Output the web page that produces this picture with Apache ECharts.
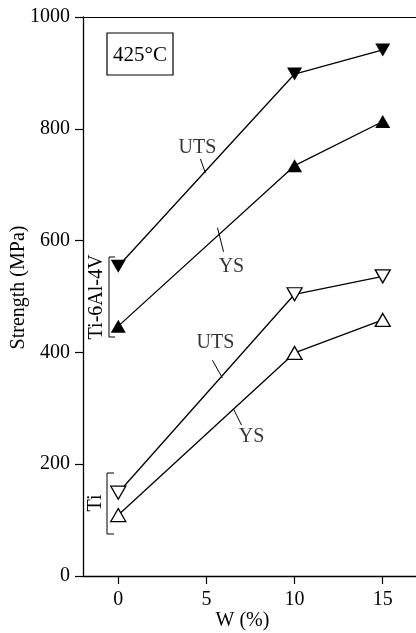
<!DOCTYPE html>
<html><head><meta charset="utf-8">
<script src="https://cdn.jsdelivr.net/npm/echarts@6/dist/echarts.min.js"></script>
<style>html,body{margin:0;padding:0;background:#fff}#c{width:416px;height:633px}</style>
</head><body><div id="c"></div>
<script>
const wPct = [0, 10, 15];
const alloyUTS = [554, 898, 941];
const alloyYS = [447, 734, 813];
const tiUTS = [149, 504, 536];
const tiYS = [109, 399, 458];
const yTicks = [0, 200, 400, 600, 800, 1000];
const xTicks = [0, 5, 10, 15];
// annotation labels [x, y, text] and leader lines [[x1,y1],[x2,y2]] in data units
const annoLabels = [[4.49, 766, 'UTS'], [6.42, 553, 'YS'], [5.51, 417, 'UTS'], [7.56, 249, 'YS']];
const annoLeaders = [
  [[4.66, 746], [4.94, 721]],
  [[5.63, 623], [5.97, 580]],
  [[5.34, 386], [5.91, 354]],
  [[6.53, 299], [6.99, 270]]
];

const FONT = 'Liberation Serif';
const chart = echarts.init(document.getElementById('c'), null, {renderer: 'canvas'});

function pts(ys) { return wPct.map((x, i) => [x, ys[i]]); }
const lineW = 1.3;
const series = [];
function dataSeries(ys, filled, rot) {
  series.push({
    type: 'line', data: pts(ys), symbol: 'triangle', symbolSize: [15, 13], symbolRotate: rot,
    showAllSymbol: true,
    lineStyle: {color: '#000', width: lineW},
    itemStyle: {color: filled ? '#000' : '#fff', borderColor: '#000', borderWidth: filled ? 0 : 1.3},
    z: 3, animation: false
  });
}
dataSeries(alloyUTS, true, 180);
dataSeries(alloyYS, true, 0);
dataSeries(tiUTS, false, 180);
dataSeries(tiYS, false, 0);
annoLeaders.forEach(seg => series.push({
  type: 'line', data: seg, symbol: 'none', lineStyle: {color: '#000', width: 1}, animation: false, silent: true
}));
series.push({
  type: 'scatter', data: annoLabels.map(a => ({value: [a[0], a[1]], name: a[2]})),
  symbolSize: 0, animation: false, silent: true,
  label: {show: true, position: 'inside', formatter: p => p.name, fontFamily: FONT, fontSize: 20, color: '#000'}
});

chart.setOption({
  animation: false,
  grid: {left: 83, top: 17, right: -2, bottom: 57, containLabel: false, outerBoundsMode: 'none'},
  xAxis: [{
    type: 'value', min: -2, max: 17, interval: 1,
    axisLine: {onZero: false, lineStyle: {color: '#000', width: 1.3}},
    axisTick: {show: true, length: 8, inside: false, lineStyle: {color: '#000', width: 1.2},
      customValues: xTicks},
    axisLabel: {show: true, customValues: xTicks, fontFamily: FONT, fontSize: 20, color: '#000', margin: 14},
    splitLine: {show: false},
    name: 'W (%)', nameLocation: 'middle', nameGap: 35, nameMoveOverlap: false,
    nameTextStyle: {fontFamily: FONT, fontSize: 20, color: '#000', padding: [0, 0, 0, -16]}
  }, {
    type: 'value', min: -2, max: 17, position: 'top',
    axisLine: {show: true, onZero: false, lineStyle: {color: '#000', width: 1.2}},
    axisTick: {show: false}, axisLabel: {show: false}, splitLine: {show: false}
  }],
  yAxis: {
    type: 'value', min: 0, max: 1000, interval: 200,
    axisLine: {show: true, onZero: false, lineStyle: {color: '#000', width: 1.3}},
    axisTick: {show: true, length: 8, lineStyle: {color: '#000', width: 1.2}},
    axisLabel: {fontFamily: FONT, fontSize: 20, color: '#000', margin: 13,
      formatter: v => yTicks.includes(v) ? String(v) : ''},
    splitLine: {show: false},
    name: 'Strength (MPa)', nameLocation: 'middle', nameGap: 54, nameMoveOverlap: false,
    nameTextStyle: {fontFamily: FONT, fontSize: 20, color: '#000', padding: [0, 0, 0, 18]}
  },
  series: series,
  graphic: [
    {type: 'rect', shape: {x: 107, y: 33, width: 66, height: 42},
      style: {fill: '#fff', stroke: '#000', lineWidth: 1.2}},
    {type: 'text', x: 140, y: 55, style: {text: '425°C', fontFamily: FONT, fontSize: 21, fill: '#000',
      align: 'center', verticalAlign: 'middle'}},
    {type: 'text', x: 97, y: 297, rotation: Math.PI / 2,
      style: {text: 'Ti-6Al-4V', fontFamily: FONT, fontSize: 20, fill: '#000', align: 'center', verticalAlign: 'middle'}},
    {type: 'polyline', shape: {points: [[115, 257], [109, 257], [109, 337], [115, 337]]},
      style: {stroke: '#000', lineWidth: 1, fill: null}},
    {type: 'text', x: 96, y: 503, rotation: Math.PI / 2,
      style: {text: 'Ti', fontFamily: FONT, fontSize: 20, fill: '#000', align: 'center', verticalAlign: 'middle'}},
    {type: 'polyline', shape: {points: [[114, 473], [107, 473], [107, 534], [114, 534]]},
      style: {stroke: '#000', lineWidth: 1, fill: null}}
  ]
});
</script></body></html>
